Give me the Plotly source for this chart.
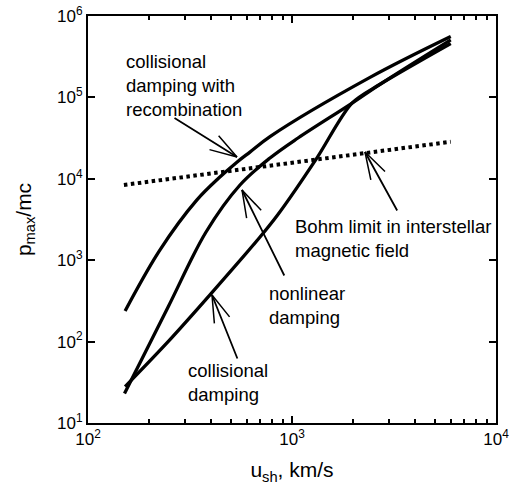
import math
import plotly.graph_objects as go

# ---- data ----
u_recomb = [152, 225, 342, 443, 537, 622, 780, 2400, 6000]
p_recomb = [238, 1330, 5500, 10500, 16000, 21300, 33000, 175000, 560000]

u_nonlin = [151, 247, 379, 556, 780, 1070, 1963, 2700, 6000]
p_nonlin = [23, 266, 2220, 8390, 18000, 31700, 84600, 145000, 510000]

u_coll = [152, 247, 402, 697, 857, 1321, 1963, 2700, 6000]
p_coll = [28, 100, 392, 1930, 3700, 17860, 84600, 145000, 460000]

u_bohm = [150, 6000]
p_bohm = [8400, 28500]

x_tickvals = [100, 1000, 10000]
x_ticktext = ["10<sup>2</sup>", "10<sup>3</sup>", "10<sup>4</sup>"]
y_tickvals = [10, 100, 1000, 10000, 100000, 1000000]
y_ticktext = ["10<sup>1</sup>", "10<sup>2</sup>", "10<sup>3</sup>",
              "10<sup>4</sup>", "10<sup>5</sup>", "10<sup>6</sup>"]
x_minor = [m * d for d in (100, 1000) for m in range(2, 10)]

FONT = "Liberation Sans, Arial, Helvetica, sans-serif"

fig = go.Figure()
for u, p, sm in [(u_recomb, p_recomb, 1.0), (u_nonlin, p_nonlin, 1.0), (u_coll, p_coll, 0.8)]:
    fig.add_trace(go.Scatter(x=u, y=p, mode="lines",
                             line=dict(color="black", width=3.3, shape="spline", smoothing=sm),
                             showlegend=False, hoverinfo="skip"))
fig.add_trace(go.Scatter(x=u_bohm, y=p_bohm, mode="lines",
                         line=dict(color="black", width=4, dash="3.5px,3.5px"),
                         showlegend=False, hoverinfo="skip"))

axis_common = dict(showline=True, linecolor="black", linewidth=2, mirror="allticks",
                   ticks="inside", ticklen=7, tickwidth=1.5, tickcolor="black",
                   showgrid=False, zeroline=False, automargin=False,
                   tickfont=dict(family=FONT, size=17, color="black"))

fig.update_xaxes(type="log", range=[2, 4], tickmode="array",
                 tickvals=x_tickvals, ticktext=x_ticktext,
                 minor=dict(tickmode="array", tickvals=x_minor, ticks="inside",
                            ticklen=4, tickwidth=1.5, tickcolor="black", showgrid=False),
                 title=dict(text="u<sub>sh</sub>, km/s",
                            font=dict(family=FONT, size=21, color="black"), standoff=14),
                 **axis_common)
fig.update_yaxes(type="log", range=[1, 6], tickmode="array",
                 tickvals=y_tickvals, ticktext=y_ticktext,
                 title=dict(text="p<sub>max</sub>/mc",
                            font=dict(family=FONT, size=21, color="black"), standoff=20),
                 **axis_common)

# ---- labels ----
labels = [
    ("collisional<br>damping with<br>recombination", 0.088, 0.830),
    ("Bohm limit in interstellar<br>magnetic field", 0.502, 0.4545),
    ("nonlinear<br>damping", 0.4387, 0.2875),
    ("collisional<br>damping", 0.240, 0.0983),
]
for text, xp, yp in labels:
    fig.add_annotation(text=text, xref="paper", yref="paper", x=xp, y=yp,
                       xanchor="left", yanchor="middle", align="left", showarrow=False,
                       font=dict(family=FONT, size=18.5, color="black"))

# ---- arrows: tip (paper coords), tail offset in px ----
arrows = [
    (0.3652, 0.6536, -64, -40),
    (0.6789, 0.6658, 33, 60),
    (0.3775, 0.5725, 43, 87),
    (0.3039, 0.3145, 26, 65),
]
BARB_LEN = 30
BARB_ANG = math.radians(17)
for xp, yp, ax, ay in arrows:
    fig.add_annotation(text="", xref="paper", yref="paper", x=xp, y=yp, ax=ax, ay=ay,
                       showarrow=True, arrowhead=0, arrowwidth=1.8, arrowcolor="black",
                       standoff=0, startstandoff=0)
    L = math.hypot(ax, ay)
    ux, uy = ax / L, ay / L
    for s in (1, -1):
        c, sn = math.cos(s * BARB_ANG), math.sin(s * BARB_ANG)
        bx = (ux * c - uy * sn) * BARB_LEN
        by = (ux * sn + uy * c) * BARB_LEN
        fig.add_annotation(text="", xref="paper", yref="paper", x=xp, y=yp, ax=bx, ay=by,
                           showarrow=True, arrowhead=0, arrowwidth=1.5, arrowcolor="black",
                           standoff=0, startstandoff=0)

fig.update_layout(width=514, height=486,
                  margin=dict(l=88, r=18, t=16, b=63, autoexpand=False),
                  paper_bgcolor="white", plot_bgcolor="white",
                  font=dict(family=FONT, color="black"))

fig.write_html("out.html", config={"displayModeBar": False},
               post_script="document.body.style.margin='0';document.body.style.overflow='hidden';")
